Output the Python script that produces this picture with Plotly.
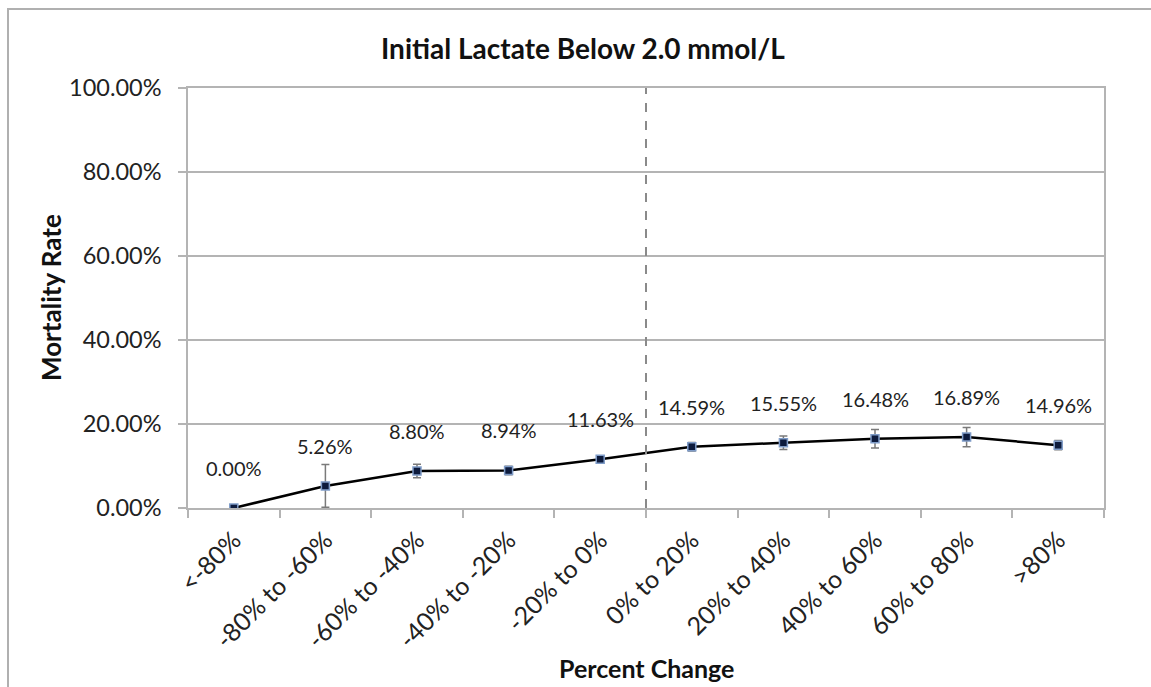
import plotly.graph_objects as go

categories = ["<-80%", "-80% to -60%", "-60% to -40%", "-40% to -20%", "-20% to 0%",
              "0% to 20%", "20% to 40%", "40% to 60%", "60% to 80%", ">80%"]
mortality = [0.00, 5.26, 8.80, 8.94, 11.63, 14.59, 15.55, 16.48, 16.89, 14.96]
errors = [0.0, 5.1, 1.6, 1.0, 0.8, 1.0, 1.6, 2.2, 2.3, 1.1]
y_ticks = [0, 20, 40, 60, 80, 100]
y_ticklabels = ["0.00%", "20.00%", "40.00%", "60.00%", "80.00%", "100.00%"]

FONT = "Lato"
GRID = "#b4b4b4"

# window-pixel -> paper helpers (plot area: x 188..1104, y 88..508 in the window)
def xp(wx):
    return (wx - 188) / 916

def yp(wy):
    return (508 - wy) / 420

fig = go.Figure()
fig.add_trace(go.Scatter(
    x=categories, y=mortality,
    mode="lines+markers",
    line=dict(color="black", width=2.5),
    marker=dict(symbol="square", size=8, color="#0d1b3d",
                line=dict(color="#7f9cc8", width=1.5)),
    error_y=dict(type="data", array=errors, visible=True,
                 color="#7a7a7a", thickness=1.5, width=4),
    showlegend=False,
))

annotations = []
for c, v in zip(categories, mortality):
    annotations.append(dict(x=c, y=v, xref="x", yref="y", text=f"{v:.2f}%",
                            showarrow=False, yshift=40,
                            font=dict(family=FONT, size=20, color="#222222")))
annotations.append(dict(x=xp(583), y=yp(48), xref="paper", yref="paper",
                        xanchor="center", yanchor="middle",
                        text="<b>Initial Lactate Below 2.0 mmol/L</b>", showarrow=False,
                        font=dict(family=FONT, size=28, color="#111111")))
annotations.append(dict(text="<b>Percent Change</b>", x=xp(646), xref="paper",
                        y=yp(668), yref="paper", xanchor="center", yanchor="middle",
                        showarrow=False,
                        font=dict(family=FONT, size=25, color="#111111")))
annotations.append(dict(text="<b>Mortality Rate</b>", x=xp(51), xref="paper",
                        y=yp(298), yref="paper", xanchor="center", yanchor="middle",
                        textangle=-90, showarrow=False,
                        font=dict(family=FONT, size=26, color="#111111")))

fig.update_layout(
    width=1151, height=687,
    margin=dict(l=188, r=47, t=88, b=179),
    paper_bgcolor="white", plot_bgcolor="white",
    annotations=annotations,
    shapes=[
        dict(type="line", xref="x", yref="paper", x0=4.5, x1=4.5, y0=0, y1=1,
             line=dict(color="#8a8a8a", width=2, dash="dash")),
        dict(type="rect", xref="paper", yref="paper",
             x0=xp(8), x1=xp(1170), y0=yp(720), y1=yp(9),
             line=dict(color="#b0b0b0", width=2), fillcolor="rgba(0,0,0,0)", layer="below"),
    ],
    xaxis=dict(
        type="category", range=[-0.5, 9.5], tickangle=-45,
        tickson="boundaries", ticks="outside", ticklen=8, tickcolor=GRID, tickwidth=1.5,
        showline=True, linecolor=GRID, linewidth=1.5, mirror=True,
        showgrid=False, ticklabelstandoff=6,
        tickfont=dict(family=FONT, size=25, color="#222222"),
    ),
    yaxis=dict(
        range=[0, 100], tickvals=y_ticks, ticktext=y_ticklabels,
        ticks="outside", ticklen=8, tickcolor=GRID, tickwidth=1.5,
        showline=True, linecolor=GRID, linewidth=1.5, mirror=True,
        showgrid=True, gridcolor=GRID, gridwidth=1.5, zeroline=False,
        ticklabelstandoff=12,
        tickfont=dict(family=FONT, size=23.5, color="#222222"),
    ),
)

fig.write_html(
    "out.html",
    config={"displayModeBar": False},
    post_script="document.body.style.margin='0';document.body.style.overflow='hidden';",
)
